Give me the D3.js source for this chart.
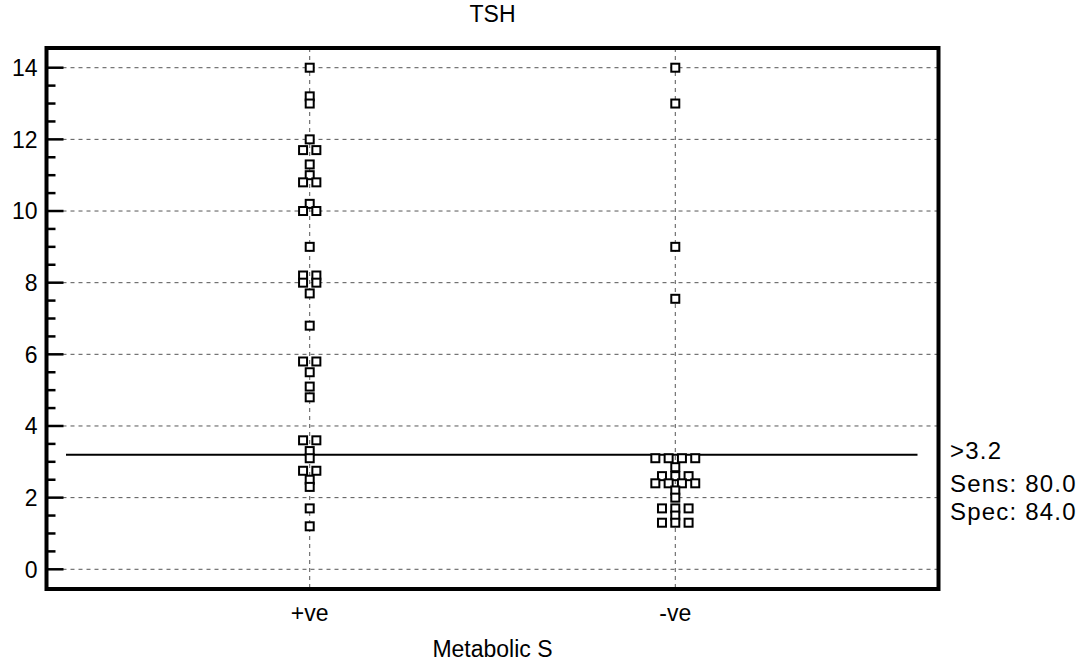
<!DOCTYPE html>
<html>
<head>
<meta charset="utf-8">
<script src="https://cdn.jsdelivr.net/npm/d3@7"></script>
<style>
  html, body { margin: 0; padding: 0; background: #fff; }
  svg text { font-family: "Liberation Sans", Arial, sans-serif; fill: #000; }
</style>
</head>
<body>
<svg id="chart" width="1086" height="664"></svg>
<script>
// values
var categories = ["+ve", "-ve"];
var positiveValues = [14, 13.2, 13, 12, 11.7, 11.7, 11.3, 11, 10.8, 10.8, 10.2, 10, 10, 9,
  8.2, 8.2, 8, 8, 7.7, 6.8, 5.8, 5.8, 5.5, 5.1, 4.8, 3.6, 3.6, 3.3, 3.1,
  2.75, 2.75, 2.5, 2.3, 1.7, 1.2];
var negativeValues = [14, 13, 9, 7.55, 3.1, 3.1, 3.1, 3.1, 2.85, 2.6, 2.6, 2.6,
  2.4, 2.4, 2.4, 2.4, 2.2, 2.0, 1.7, 1.7, 1.7, 1.5, 1.3, 1.3, 1.3];
var yTicks = [0, 2, 4, 6, 8, 10, 12, 14];
var yMinorTicks = d3.range(0, 14.01, 0.5);
var cutoff = 3.2;
var cutoffLabels = [">3.2", "Sens: 80.0", "Spec: 84.0"];
var title = "TSH";
var xTitle = "Metabolic S";

var svg = d3.select("#chart"),
    margin = { top: 48, right: 147.5, bottom: 75, left: 46.5 },
    width = +svg.attr("width") - margin.left - margin.right,
    height = +svg.attr("height") - margin.top - margin.bottom,
    g = svg.append("g").attr("transform", "translate(" + margin.left + "," + margin.top + ")");

var x = d3.scalePoint()
    .domain(categories)
    .range([0, width])
    .padding(0.72);

var y = d3.scaleLinear()
    .domain([-0.55, 14.55])
    .range([height, 0]);

var dash = "4,4";

// horizontal grid
g.append("g")
    .selectAll("line")
    .data(yTicks)
    .enter().append("line")
    .attr("x1", 0)
    .attr("x2", width)
    .attr("y1", function (d) { return y(d); })
    .attr("y2", function (d) { return y(d); })
    .attr("stroke", "#555")
    .attr("stroke-width", 1)
    .attr("stroke-dasharray", dash);

// vertical grid at each group
g.append("g")
    .selectAll("line")
    .data(categories)
    .enter().append("line")
    .attr("x1", function (d) { return x(d); })
    .attr("x2", function (d) { return x(d); })
    .attr("y1", 0)
    .attr("y2", height)
    .attr("stroke", "#555")
    .attr("stroke-width", 1)
    .attr("stroke-dasharray", dash);

// cut-off line
g.append("line")
    .attr("x1", 19.5)
    .attr("x2", width - 21)
    .attr("y1", y(cutoff))
    .attr("y2", y(cutoff))
    .attr("stroke", "#000")
    .attr("stroke-width", 2);

// spread equal values side by side
function layoutPoints(cat, values) {
  var counts = {}, seen = {}, out = [];
  values.forEach(function (v) { counts[v] = (counts[v] || 0) + 1; });
  values.forEach(function (v) {
    var i = seen[v] || 0;
    seen[v] = i + 1;
    out.push({ cat: cat, value: v, off: (i - (counts[v] - 1) / 2) * 13.3 });
  });
  return out;
}
var points = layoutPoints(categories[0], positiveValues)
    .concat(layoutPoints(categories[1], negativeValues));

g.append("g")
    .selectAll("rect")
    .data(points)
    .enter().append("rect")
    .attr("x", function (d) { return x(d.cat) + d.off - 4; })
    .attr("y", function (d) { return y(d.value) - 4; })
    .attr("width", 8)
    .attr("height", 8)
    .attr("fill", "#fff")
    .attr("stroke", "#000")
    .attr("stroke-width", 2);

// frame
g.append("rect")
    .attr("x", 0)
    .attr("y", 0)
    .attr("width", width)
    .attr("height", height)
    .attr("fill", "none")
    .attr("stroke", "#000")
    .attr("stroke-width", 4);

// y ticks (inside the frame)
g.append("g")
    .selectAll("line")
    .data(yMinorTicks)
    .enter().append("line")
    .attr("x1", 0)
    .attr("x2", function (d) { return d % 2 === 0 ? 17 : 9; })
    .attr("y1", function (d) { return y(d); })
    .attr("y2", function (d) { return y(d); })
    .attr("stroke", "#000")
    .attr("stroke-width", 2.5);

g.append("g")
    .selectAll("text")
    .data(yTicks)
    .enter().append("text")
    .attr("x", -9)
    .attr("y", function (d) { return y(d); })
    .attr("dy", "0.36em")
    .attr("text-anchor", "end")
    .attr("font-size", 23)
    .text(function (d) { return d; });

// category labels
g.append("g")
    .selectAll("text")
    .data(categories)
    .enter().append("text")
    .attr("x", function (d) { return x(d); })
    .attr("y", height + 32)
    .attr("text-anchor", "middle")
    .attr("font-size", 23)
    .text(function (d) { return d; });

svg.append("text")
    .attr("x", margin.left + width / 2)
    .attr("y", 22)
    .attr("text-anchor", "middle")
    .attr("font-size", 23)
    .text(title);

svg.append("text")
    .attr("x", margin.left + width / 2)
    .attr("y", 657)
    .attr("text-anchor", "middle")
    .attr("font-size", 23)
    .text(xTitle);

// cut-off annotation to the right of the frame
svg.append("g")
    .selectAll("text")
    .data(cutoffLabels)
    .enter().append("text")
    .attr("x", 950)
    .attr("y", function (d, i) { return [459, 492, 520][i]; })
    .attr("font-size", 24)
    .attr("letter-spacing", 1.2)
    .text(function (d) { return d; });
</script>
</body>
</html>
